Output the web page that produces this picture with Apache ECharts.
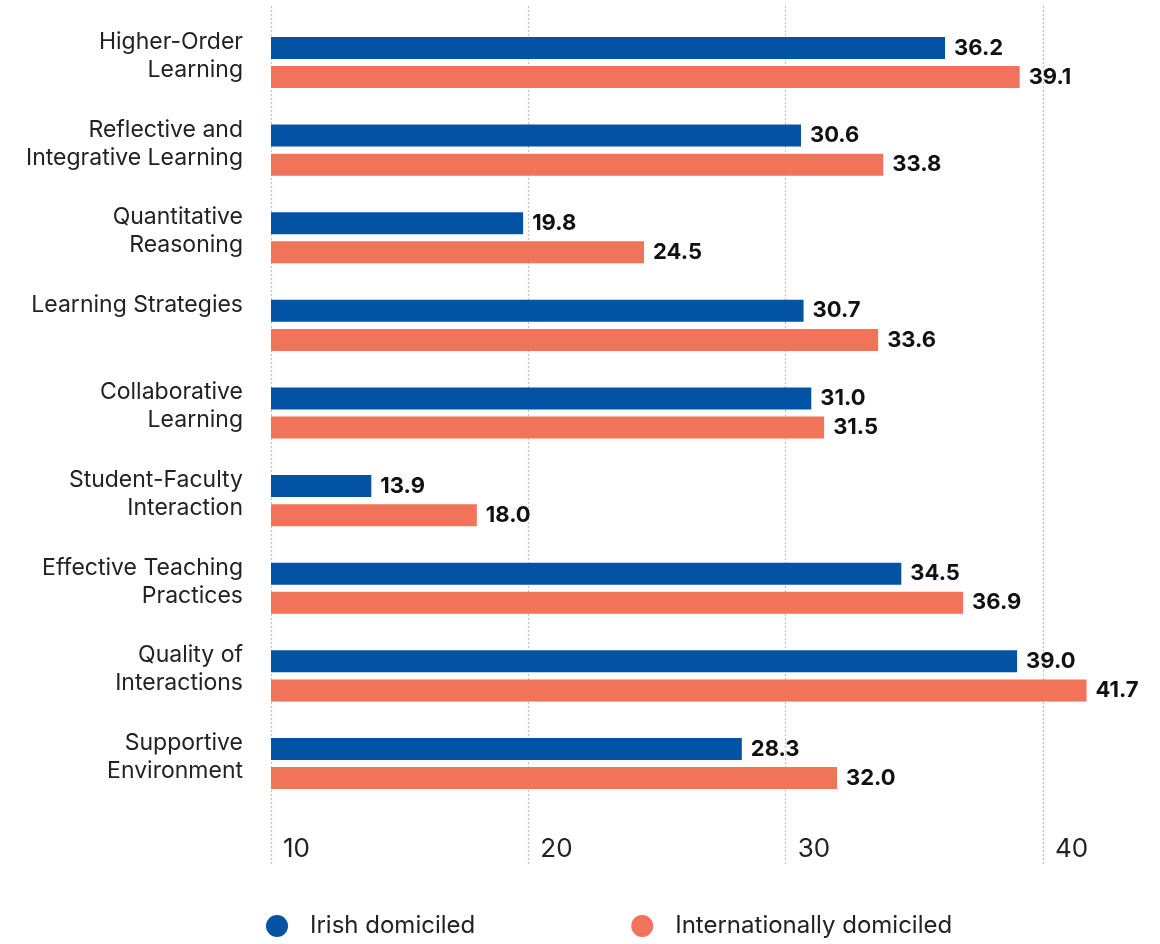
<!DOCTYPE html>
<html>
<head>
<meta charset="utf-8">
<script src="https://cdn.jsdelivr.net/npm/echarts@6/dist/echarts.min.js"></script>
<style>
  html, body { margin: 0; padding: 0; background: #fff; }
  #chart { width: 1160px; height: 944px; }
</style>
</head>
<body>
<div id="chart"></div>
<script>
// 数据
const categories = [
    'Higher-Order\nLearning',
    'Reflective and\nIntegrative Learning',
    'Quantitative\nReasoning',
    'Learning Strategies',
    'Collaborative\nLearning',
    'Student-Faculty\nInteraction',
    'Effective Teaching\nPractices',
    'Quality of\nInteractions',
    'Supportive\nEnvironment'
];
const irishValues = [36.2, 30.6, 19.8, 30.7, 31.0, 13.9, 34.5, 39.0, 28.3];
const internationalValues = [39.1, 33.8, 24.5, 33.6, 31.5, 18.0, 36.9, 41.7, 32.0];
const seriesNames = ['Irish domiciled', 'Internationally domiciled'];
const tickValues = [10, 20, 30, 40];

const FONT = 'Inter, "Noto Sans", sans-serif';
const BLUE = '#0353A4';
const ORANGE = '#F1735A';

// 三个网格：柱子、网格线、分类标签
const barTop = 18.7;
const barHeight = 788.6;

const chart = echarts.init(document.getElementById('chart'));

function barLabel() {
    return {
        show: true,
        position: 'right',
        distance: 9,
        fontFamily: FONT,
        fontWeight: 'bold',
        fontSize: 22,
        color: '#111',
        formatter: p => p.value.toFixed(1)
    };
}

chart.setOption({
    animation: false,
    textStyle: { fontFamily: FONT },
    legend: {
        left: 261,
        top: 909,
        icon: 'circle',
        itemWidth: 22,
        itemHeight: 22,
        itemGap: 156,
        textStyle: { fontFamily: FONT, fontSize: 24, color: '#222', padding: [0, 0, 0, 17] },
        data: seriesNames
    },
    grid: [
        { left: 271, right: 40, top: barTop, height: barHeight },
        { left: 271, right: 117, top: 6, bottom: 78 },
        { left: 271, right: 40, top: barTop - 6.5, height: barHeight }
    ],
    xAxis: [
        { gridIndex: 0, type: 'value', min: 10, max: 43, show: false },
        {
            gridIndex: 1, type: 'value', min: tickValues[0], max: tickValues[tickValues.length - 1], interval: 10,
            axisLine: { show: false },
            axisTick: { show: false },
            splitLine: { show: true, lineStyle: { color: '#c4c4c4', width: 1.2, type: [2, 2] } },
            axisLabel: {
                inside: true, margin: 4, align: 'left', verticalAlign: 'bottom',
                padding: [0, 0, 0, 12],
                showMinLabel: true, showMaxLabel: true,
                fontFamily: FONT, fontSize: 26, color: '#222'
            }
        },
        { gridIndex: 2, type: 'value', min: 10, max: 43, show: false }
    ],
    yAxis: [
        { gridIndex: 0, type: 'category', data: categories, inverse: true, show: false },
        { gridIndex: 1, type: 'value', show: false },
        {
            gridIndex: 2, type: 'category', data: categories, inverse: true,
            axisLine: { show: false },
            axisTick: { show: false },
            axisLabel: {
                margin: 28, verticalAlign: 'middle', lineHeight: 28,
                fontFamily: FONT, fontSize: 23, color: '#222',
                // 单行标签补一个空行，使其与两行标签顶端对齐
                formatter: v => v.indexOf('\n') >= 0 ? v : v + '\n '
            }
        }
    ],
    series: [
        {
            name: seriesNames[0], type: 'bar', xAxisIndex: 0, yAxisIndex: 0,
            data: irishValues, barWidth: 22, barGap: '32%',
            itemStyle: { color: BLUE },
            label: barLabel()
        },
        {
            name: seriesNames[1], type: 'bar', xAxisIndex: 0, yAxisIndex: 0,
            data: internationalValues, barWidth: 22, barGap: '32%',
            itemStyle: { color: ORANGE },
            label: barLabel()
        }
    ]
});
</script>
</body>
</html>
